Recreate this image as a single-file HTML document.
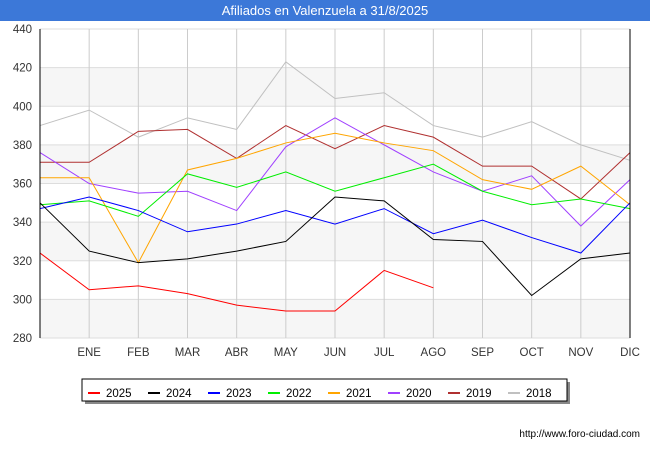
<!DOCTYPE html>
<html><head><meta charset="utf-8"><style>
body{margin:0;width:650px;height:450px;background:#fff;font-family:"Liberation Sans",sans-serif;overflow:hidden}
</style></head><body>
<svg width="650" height="450" id="c">
<rect x="0" y="0" width="650" height="21" fill="#3c78d8"/>
<text x="325" y="15" text-anchor="middle" fill="#fff" font-size="13">Afiliados en Valenzuela a 31/8/2025</text>
<g id="grid"></g><g id="lines"></g>
<line x1="40" y1="29" x2="40" y2="338" stroke="#000"/>
<line x1="630" y1="29" x2="630" y2="338" stroke="#000"/>
<rect x="85" y="382" width="485" height="22" fill="#888"/>
<rect x="82" y="379" width="485" height="22" fill="#fff" stroke="#000"/>
<g id="legend"></g>
<text x="640" y="437" text-anchor="end" font-size="10" fill="#000">http://www.foro-ciudad.com</text>
</svg>
<script>
const months=["","ENE","FEB","MAR","ABR","MAY","JUN","JUL","AGO","SEP","OCT","NOV","DIC"];
const yTicks=[280,300,320,340,360,380,400,420,440];
const seriesNames=["2025","2024","2023","2022","2021","2020","2019","2018"];
const colors=["#ff0000","#000000","#0000ff","#00ee00","#ffa500","#a040ff","#b03030","#c0c0c0"];
const s2025=[324,305,307,303,297,294,294,315,306];
const s2024=[350,325,319,321,325,330,353,351,331,330,302,321,324];
const s2023=[347,353,346,335,339,346,339,347,334,341,332,324,350];
const s2022=[349,351,343,365,358,366,356,363,370,356,349,352,347];
const s2021=[363,363,319,367,373,381,386,381,377,362,357,369,349];
const s2020=[376,360,355,356,346,379,394,380,366,356,364,338,362];
const s2019=[371,371,387,388,373,390,378,390,384,369,369,352,376];
const s2018=[390,398,384,394,388,423,404,407,390,384,392,380,372];
const data=[s2025,s2024,s2023,s2022,s2021,s2020,s2019,s2018];
const NS="http://www.w3.org/2000/svg";
const X=i=>40+i*(590/12), Y=v=>338-(v-280)*(309/160);
const g=document.getElementById('grid');
function mk(tag,a,parent){const e=document.createElementNS(NS,tag);for(const k in a)e.setAttribute(k,a[k]);parent.appendChild(e);return e;}
for(let i=0;i<yTicks.length-1;i++){
 if(i%2===0){const r=mk('rect',{x:40,y:Y(yTicks[i+1]),width:590,height:Y(yTicks[i])-Y(yTicks[i+1]),fill:'#f6f6f6'},g);
 
 }
}
yTicks.forEach(v=>{
 const l=mk('line',{x1:40,x2:630,y1:Y(v),y2:Y(v),stroke:'#ddd'},g);
 
 
 const t=mk('text',{x:32,y:Y(v)+4,'text-anchor':'end','font-size':11.5,fill:'#333'},g);t.textContent=v;
 
 
});
months.forEach((m,i)=>{
 if(i===0)return;
 const l=mk('line',{x1:X(i),x2:X(i),y1:29,y2:338,stroke:'#ccc'},g);
 
 
 const t=mk('text',{x:X(i),y:356,'text-anchor':'middle','font-size':11.5,fill:'#333'},g);t.textContent=m;
 
 
});
const lg=document.getElementById('lines');
for(let s=data.length-1;s>=0;s--){
 const p=mk('polyline',{points:data[s].map((v,i)=>X(i)+','+Y(v)).join(' '),fill:'none',stroke:colors[s],'stroke-width':1},lg);
 
 
}
const leg=document.getElementById('legend');
seriesNames.forEach((n,i)=>{
 const x=88+i*60;
 const l=mk('line',{x1:x,x2:x+12,y1:393,y2:393,stroke:colors[i],'stroke-width':2},leg);
 
 
 const t=mk('text',{x:x+18,y:397,'font-size':11.5,fill:'#000'},leg);t.textContent=n;
 
 
});
</script>
</body></html>
